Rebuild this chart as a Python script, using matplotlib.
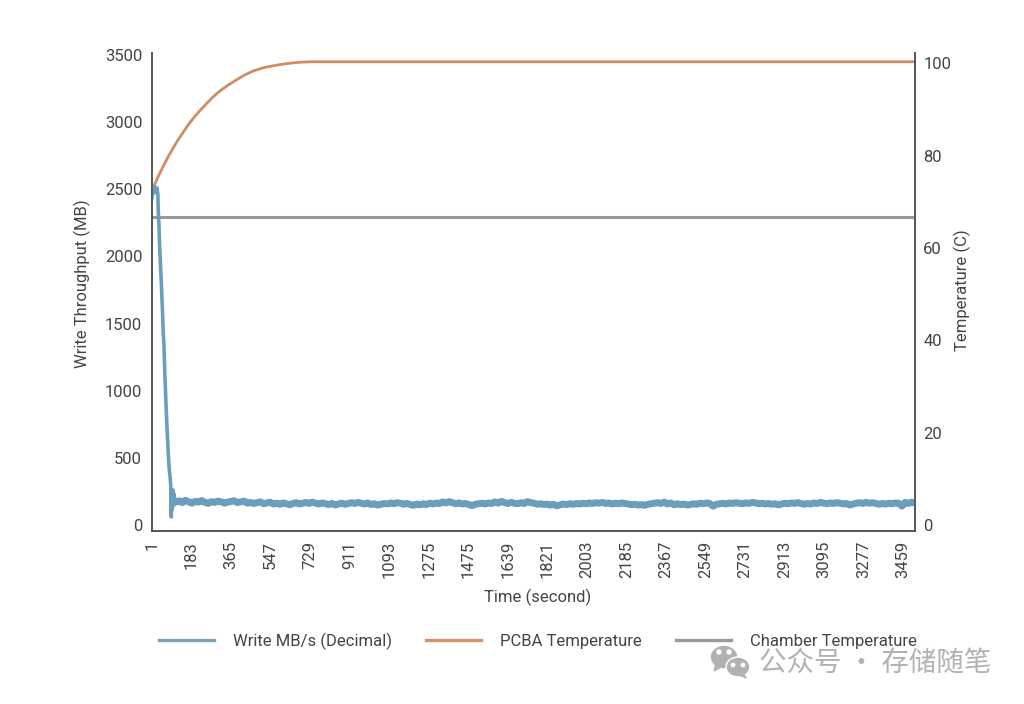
import numpy as np
import matplotlib
matplotlib.use('Agg')
import matplotlib.pyplot as plt
from matplotlib.patches import Ellipse, Polygon

plt.rcParams['font.family'] = ['Roboto', 'Noto Sans CJK SC', 'DejaVu Sans']

tick_pos = [1, 183, 365, 547, 729, 911, 1093, 1275, 1457, 1639, 1821, 2003,
            2185, 2367, 2549, 2731, 2913, 3095, 3277, 3459]
tick_labels = ['1', '183', '365', '547', '729', '911', '1093', '1275', '1475',
               '1639', '1821', '2003', '2185', '2367', '2549', '2731', '2913',
               '3095', '3277', '3459']

# drop at the start of the write run
ramp_t = [1, 5, 9, 14, 19, 24, 28, 30, 33, 36, 38, 41, 44, 47, 50, 53, 56, 60,
          64, 68, 72, 76, 80, 84, 87, 89, 90, 91, 92, 94, 96, 98, 100, 103, 106]
ramp_mb = [2440, 2510, 2470, 2520, 2480, 2510, 2460, 2330, 2240, 2080, 2010, 1900,
           1800, 1680, 1560, 1420, 1340, 1130, 960, 800, 660, 530, 420, 360,
           300, 120, 60, 230, 110, 240, 140, 260, 150, 230, 180]

# steady state after the cache is used up
plateau_mb = [
    170, 180, 166, 184, 172, 162, 176, 170, 182, 168, 160, 174, 168, 178, 172, 162,
    170, 176, 180, 166, 172, 178, 162, 168, 160, 166, 172, 158, 164, 170, 156, 162,
    154, 164, 158, 150, 160, 166, 156, 162, 168, 160, 170, 162, 156, 164, 158, 152,
    160, 148, 156, 162, 154, 160, 166, 160, 168, 162, 156, 164, 152, 158, 148, 154,
    160, 156, 164, 158, 166, 162, 154, 160, 152, 146, 156, 150, 158, 152, 162, 156,
    164, 160, 172, 164, 174, 166, 158, 164, 156, 160, 152, 144, 154, 158, 162, 156,
    164, 160, 172, 162, 176, 166, 160, 168, 162, 158, 166, 160, 174, 166, 162, 154,
    158, 152, 156, 148, 154, 142, 150, 156, 152, 158, 154, 160, 156, 162, 158, 164,
    160, 166, 162, 168, 160, 164, 156, 162, 158, 164, 160, 156, 150, 154, 148, 152,
    146, 154, 158, 162, 166, 160, 170, 156, 164, 150, 158, 152, 156, 148, 152, 158,
    154, 162, 158, 164, 160, 140, 154, 158, 162, 156, 164, 160, 166, 162, 158, 164,
    160, 168, 164, 158, 162, 156, 160, 154, 158, 150, 156, 162, 158, 164, 160, 166,
    160, 154, 160, 156, 164, 160, 168, 162, 158, 164, 160, 166, 162, 156, 160, 148,
    156, 162, 166, 160, 168, 162, 166, 160, 154, 160, 156, 162, 158, 164, 162, 140,
    168, 160, 170, 164,
]
plateau_t = np.linspace(110, 3514, len(plateau_mb))

pcba_t = [1, 6, 29, 52, 75, 98, 121, 144, 167, 190, 217, 245, 280, 314, 350, 387,
          426, 466, 521, 590, 640, 682, 729, 1500, 3514]
pcba_c = [72.5, 73.0, 75.4, 77.6, 79.7, 81.6, 83.4, 85.0, 86.6, 88.0, 89.5, 90.9,
          92.6, 94.0, 95.2, 96.3, 97.4, 98.3, 99.1, 99.7, 100.0, 100.2, 100.3,
          100.3, 100.3]

chamber_t = [1, 3514]
chamber_c = [66.7, 66.7]

BLUE = '#6b9dbd'
ORANGE = '#d18c62'
GREY = '#999999'
TEXT = '#444444'
EDGE = '#555555'

fig = plt.figure(figsize=(10.24, 7.04), dpi=100)
ax = fig.add_axes([152 / 1024, 1 - 531 / 704, (915 - 152) / 1024, (531 - 53) / 704])
ax2 = ax.twinx()
ax.set_zorder(ax2.get_zorder() + 1)
ax.patch.set_visible(False)

line1, = ax.plot(ramp_t, ramp_mb, color=BLUE, lw=2.6, solid_joinstyle='round')
ax.plot(plateau_t, plateau_mb, color=BLUE, lw=5.0, solid_joinstyle='round')
line2, = ax2.plot(pcba_t, pcba_c, color=ORANGE, lw=2.0)
line3, = ax2.plot(chamber_t, chamber_c, color=GREY, lw=2.2)

ax.set_xlim(1, 3514)
ax.set_ylim(-45, 3515)
ax2.set_ylim(-1.3, 102.2)

ax.set_xticks(tick_pos)
ax.set_xticklabels(tick_labels, rotation=90, fontsize=12, color=TEXT)
ax.set_yticks(range(0, 3501, 500))
ax2.set_yticks(range(0, 101, 20))
ax.tick_params(axis='x', length=0, pad=7)
ax.tick_params(axis='y', length=0, pad=7, labelsize=12, labelcolor=TEXT)
ax2.tick_params(axis='y', length=0, pad=6, labelsize=12, labelcolor=TEXT)

for a in (ax, ax2):
    a.spines['top'].set_visible(False)
    for side in ('left', 'right', 'bottom'):
        a.spines[side].set_color(EDGE)
        a.spines[side].set_linewidth(1.2)

fig.text(82 / 1024, 1 - 284 / 704, 'Write Throughput (MB)', rotation=90, fontsize=12,
         color=TEXT, ha='center', va='center')
fig.text(962 / 1024, 1 - 290 / 704, 'Temperature (C)', rotation=90, fontsize=12,
         color=TEXT, ha='center', va='center')
fig.text(538 / 1024, 1 - 597 / 704, 'Time (second)', fontsize=12,
         color=TEXT, ha='center', va='center')

leg = fig.legend([line1, line2, line3],
                 ['Write MB/s (Decimal)', 'PCBA Temperature', 'Chamber Temperature'],
                 ncol=3, frameon=False, fontsize=12, labelcolor=TEXT,
                 handlelength=3.3, handletextpad=1.15, columnspacing=2.05,
                 loc='center', bbox_to_anchor=(538 / 1024, 1 - 641 / 704))
for h, c in zip(leg.legend_handles, ['#7fa2b8', '#d8916a', '#9a9a9a']):
    h.set_color(c)
    h.set_linewidth(2.4)

# wechat watermark, page in pixels
over = fig.add_axes([0, 0, 1, 1])
over.set_xlim(0, 1024)
over.set_ylim(704, 0)
over.axis('off')
over.patch.set_visible(False)
WM = '#b2b2b2'
over.add_patch(Ellipse((724, 657), 25, 21, color=WM))
over.add_patch(Polygon([[716, 664], [714, 671], [723, 666]], color=WM))
over.add_patch(Ellipse((738, 667), 24, 20, color='white'))
over.add_patch(Ellipse((738, 667), 21, 17, color=WM))
over.add_patch(Polygon([[743, 673], [746, 678], [737, 674]], color=WM))
for ex, ey, er in [(719, 652, 2), (729, 652, 2), (733, 665, 1.7), (743, 665, 1.7)]:
    over.add_patch(Ellipse((ex, ey), er * 2, er * 2, color='white'))
over.text(759, 663, '公众号 · 存储随笔', fontsize=19.8, color=WM, ha='left', va='center',
          family=['Noto Sans CJK SC', 'DejaVu Sans'])

fig.savefig('out.png', dpi=100, facecolor='white')
